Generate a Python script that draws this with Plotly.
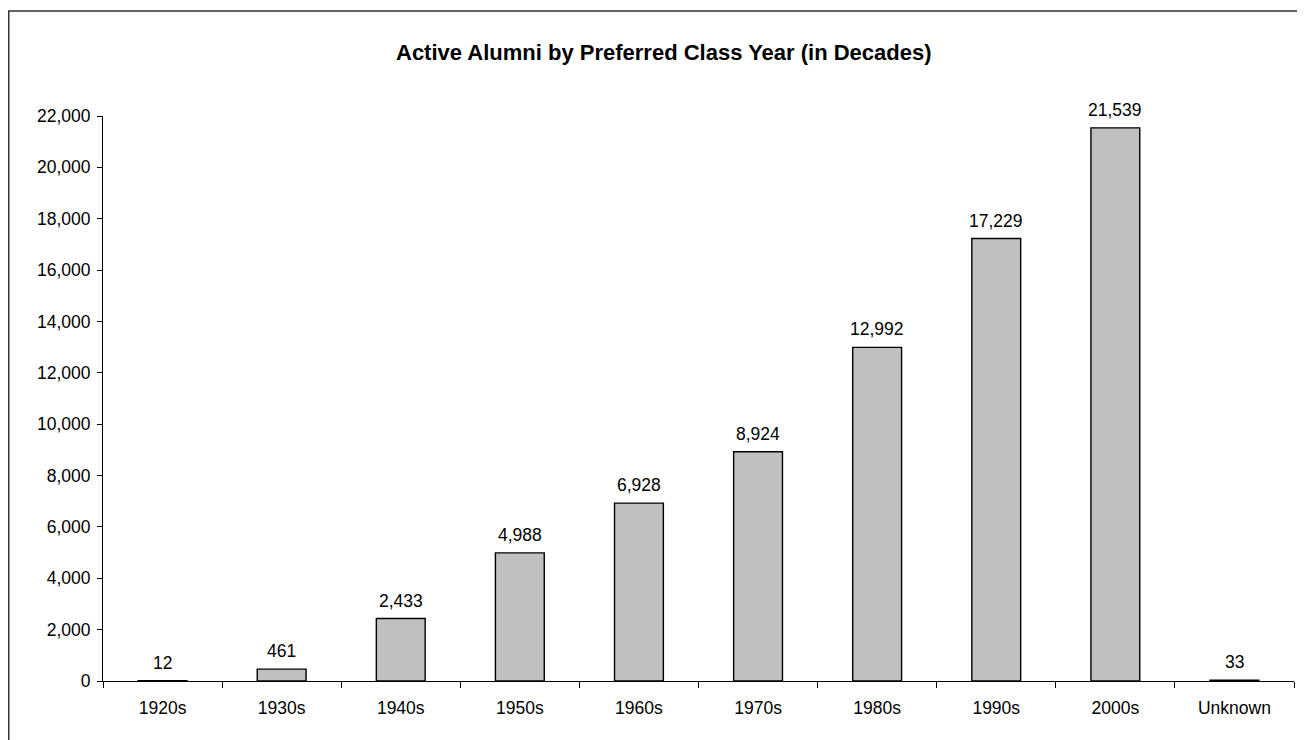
import plotly.graph_objects as go

categories = ["1920s", "1930s", "1940s", "1950s", "1960s", "1970s", "1980s", "1990s", "2000s", "Unknown"]
values = [12, 461, 2433, 4988, 6928, 8924, 12992, 17229, 21539, 33]
y_ticks = list(range(0, 22001, 2000))

# The page body has an 8px margin; work in reference pixels and shift.
OFF = 8
W, H = 1305 - OFF, 740 - OFF
L = 103 - OFF
T = 116 - OFF
R = 1305 - 1294
B = 740 - 681
pw, ph = W - L - R, H - T - B

def px_x(p):
    return (p - OFF - L) / pw

def px_y(p):
    return (H - B - (p - OFF)) / ph

FONT = "Liberation Sans, Arial"

fig = go.Figure(go.Bar(
    x=categories, y=values,
    marker=dict(color="#C0C0C0", line=dict(color="black", width=1.4)),
    width=0.41,
    cliponaxis=False,
))

label_annotations = [
    dict(x=c, y=v, xref="x", yref="y", text=f"{v:,}", showarrow=False,
         xanchor="center", yanchor="bottom", yshift=6,
         font=dict(family=FONT, size=17.5, color="black"))
    for c, v in zip(categories, values)
]

fig.update_layout(
    width=W, height=H,
    margin=dict(l=L, r=R, t=T, b=B),
    plot_bgcolor="white", paper_bgcolor="white",
    showlegend=False,
    font=dict(family=FONT, size=17.5, color="black"),
    xaxis=dict(
        showline=True, linecolor="black", linewidth=1,
        ticks="outside", ticklen=6, tickcolor="black",
        tickson="boundaries", showgrid=False,
        tickfont=dict(size=17.5), range=[-0.5, 9.5],
        ticklabelstandoff=11,
    ),
    yaxis=dict(
        range=[0, 22000], tickvals=y_ticks, tickformat=",d",
        showline=True, linecolor="black", linewidth=1,
        ticks="outside", ticklen=5, tickcolor="black",
        showgrid=False, zeroline=False, tickfont=dict(size=17.5),
        ticklabelstandoff=3,
    ),
    annotations=label_annotations + [dict(
        text="<b>Active Alumni by Preferred Class Year (in Decades)</b>",
        x=px_x(664), y=px_y(52.5), xref="paper", yref="paper",
        showarrow=False, xanchor="center", yanchor="middle",
        font=dict(family=FONT, size=22, color="black"),
    )],
    shapes=[dict(
        type="rect", xref="paper", yref="paper",
        x0=px_x(8.7), x1=px_x(1320), y0=px_y(760), y1=px_y(11),
        line=dict(color="#333333", width=1.6), layer="below",
    )],
)

fig.write_html("out.html")
